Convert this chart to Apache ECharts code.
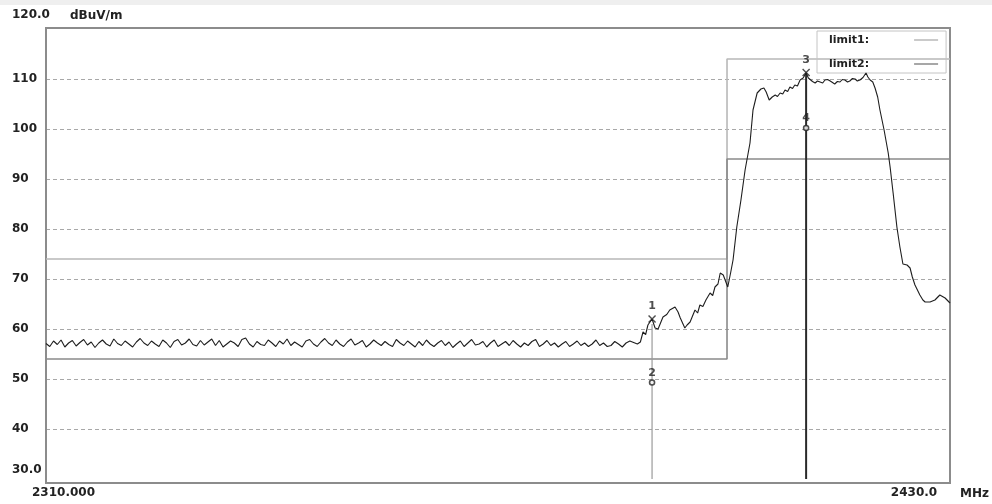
<!DOCTYPE html>
<html>
<head>
<meta charset="utf-8">
<script src="https://cdn.jsdelivr.net/npm/echarts@6/dist/echarts.min.js"></script>
<style>
html,body{margin:0;padding:0;background:#fff;}
#c{width:992px;height:504px;}
</style>
</head>
<body>
<div id="c"></div>
<script>
// ---------- data ----------
const xTickLabels = ['2310.000', '2430.0'];
const yTickLabels = {120: '120.0', 30: '30.0'};

// noise floor, 2310 .. 2388 MHz every 0.5 MHz
const noiseStart = 2310;
const noiseStep = 0.5;
const noiseLevel = [
  57.1,56.5,57.6,56.9,57.8,56.4,57.2,57.7,56.6,57.3,
  57.9,56.8,57.4,56.3,57.2,57.8,57.0,56.6,58.0,57.1,
  56.7,57.6,57.0,56.4,57.4,58.1,57.2,56.7,57.6,57.0,
  56.5,57.8,57.2,56.3,57.5,57.9,56.8,57.2,58.0,56.9,
  56.6,57.7,56.8,57.4,58.0,56.7,57.7,56.4,57.0,57.6,
  57.2,56.5,57.9,58.2,57.0,56.4,57.5,56.9,56.7,57.8,
  57.2,56.5,57.6,57.0,58.0,56.7,57.4,56.9,56.4,57.6,
  57.9,57.0,56.5,57.4,58.1,57.2,56.7,57.8,57.0,56.5,
  57.4,58.0,56.8,57.2,57.7,56.4,57.0,57.8,57.2,56.7,
  57.5,56.9,56.5,57.9,57.2,56.7,57.6,57.0,56.4,57.5,
  56.7,57.8,57.0,56.5,57.2,57.7,56.7,57.4,56.3,57.0,
  57.6,56.5,57.2,57.9,56.8,57.0,57.5,56.4,57.2,57.8,
  56.5,57.0,57.5,56.7,57.7,57.0,56.4,57.2,56.7,57.5,
  57.9,56.5,57.0,57.7,56.7,57.2,56.4,57.0,57.5,56.5,
  57.0,57.6,56.7,57.2,56.5,57.0,57.8,56.7,57.2,56.5,
  56.7,57.5,57.0,56.4,57.2,57.6,57.3
];

// band edge and emission, read point by point
const bandFreq = [
  2388.5,2388.9,2389.25,2389.6,2389.9,2390.45,2390.85,2391.25,2391.9,2392.4,
  2392.8,2393.5,2393.9,2394.2,2394.8,2395.1,2395.5,2396.15,2396.5,2396.8,
  2397.2,2397.6,2398.15,2398.5,2398.8,2399.2,2399.5,2399.9,2400.5,2400.9,
  2401.2,2401.7,2402.25,2402.8,2403.45,2403.85,2404.4,2404.9,2405.3,2405.6,
  2406.0,2406.4,2406.8,2407.1,2407.45,2407.8,2408.1,2408.45,2408.75,2409.1,
  2409.4,2409.75,2410.1,2410.5,2410.9,2411.2,2411.4,2411.75,2412.1,2412.4,
  2412.75,2413.1,2413.4,2413.75,2414.1,2414.4,2414.7,2415.05,2415.4,2415.7,
  2416.05,2416.4,2416.7,2417.05,2417.4,2417.7,2418.05,2418.45,2418.85,2419.1,
  2419.4,2419.75,2420.05,2420.4,2420.7,2421.25,2421.8,2422.05,2422.45,2422.95,
  2423.35,2423.75,2424.3,2424.7,2425.0,2425.35,2426.0,2426.4,2426.7,2427.35,
  2428.0,2428.65,2429.35,2430.0
];
const bandLevel = [
  57.0,57.4,59.4,58.9,60.8,62.0,60.2,60.0,62.4,62.9,
  63.8,64.4,63.4,62.2,60.2,60.8,61.4,63.8,63.2,64.8,
  64.5,65.8,67.2,66.7,68.4,69.0,71.2,70.8,68.4,71.4,
  73.8,80.4,85.8,91.8,97.2,103.8,107.2,108.0,108.2,107.4,
  105.8,106.4,106.8,106.5,107.2,107.0,107.8,107.5,108.4,108.1,
  108.8,108.6,109.8,110.2,111.2,110.2,109.8,109.5,109.2,109.6,
  109.4,109.2,109.8,109.9,109.6,109.3,109.0,109.5,109.4,109.9,
  109.8,109.4,109.6,110.1,110.0,109.6,109.8,110.3,111.2,110.4,
  109.8,109.4,108.2,106.4,103.8,99.8,95.2,92.4,87.2,80.4,
  76.4,73.0,72.8,72.2,70.4,68.8,66.8,65.8,65.4,65.4,
  65.8,66.8,66.2,65.2
];

// limits (limit1 = peak, limit2 = average)
const limitFreq   = [2310, 2400.4, 2400.4, 2430];
const limit1Level = [74, 74, 114, 114];
const limit2Level = [54, 54, 94, 94];

// markers
const markerName  = ['1', '2', '3', '4'];
const markerFreq  = [2390.45, 2390.45, 2410.9, 2410.9];
const markerLevel = [62.0, 49.3, 111.3, 100.2];
const markerKind  = ['x', 'o', 'x', 'o'];

// ---------- build ----------
const FONT = 'DejaVu Sans';
const trace = noiseLevel.map((v, i) => [noiseStart + i * noiseStep, v])
  .concat(bandFreq.map((f, i) => [f, bandLevel[i]]));
const lim1 = limitFreq.map((f, i) => [f, limit1Level[i]]);
const lim2 = limitFreq.map((f, i) => [f, limit2Level[i]]);

const crossPath = 'path://M0,0L10,10M10,0L0,10';
const markerData = markerFreq.map((f, i) => ({
  value: [f, markerLevel[i]],
  name: markerName[i],
  symbol: markerKind[i] === 'x' ? crossPath : 'circle',
  symbolSize: markerKind[i] === 'x' ? 7 : 5,
  itemStyle: markerKind[i] === 'x'
    ? {color: 'rgba(0,0,0,0)', borderColor: '#222', borderWidth: 1.4}
    : {color: '#fff', borderColor: '#222', borderWidth: 1.6},
  label: {distance: markerKind[i] === 'x' ? 3 : 1}
}));

const chart = echarts.init(document.getElementById('c'), null, {renderer: 'canvas'});
const gridColors = ['rgba(0,0,0,0)','#a8a8a8','#a8a8a8','#a8a8a8','#a8a8a8','#a8a8a8','#a8a8a8','#a8a8a8','#a8a8a8','rgba(0,0,0,0)'];

const option = {
  animation: false,
  backgroundColor: '#ffffff',
  grid: {left: 46, top: 29, width: 904, height: 450, show: false},
  graphic: [
    {type: 'rect', shape: {x: 0, y: 0, width: 992, height: 5}, style: {fill: '#efefef'}, silent: true, z: -10},
    {type: 'rect', shape: {x: 46, y: 28, width: 904, height: 455}, style: {fill: null, stroke: '#8c8c8c', lineWidth: 2}, silent: true, z: 1}
  ],
  xAxis: {
    type: 'value', min: 2310, max: 2430, interval: 120,
    axisLine: {show: false}, axisTick: {show: false}, splitLine: {show: false},
    axisLabel: {
      margin: 8,
      formatter: v => v === 2310 ? '{a|' + xTickLabels[0] + '}' : '{b|' + xTickLabels[1] + '}',
      rich: {
        a: {fontFamily: FONT, fontWeight: 'bold', fontSize: 12, color: '#222', padding: [0, 0, 0, 35]},
        b: {fontFamily: FONT, fontWeight: 'bold', fontSize: 12, color: '#222', padding: [0, 72, 0, 0]}
      }
    },
    name: 'MHz', nameLocation: 'end', nameGap: 10,
    nameTextStyle: {fontFamily: FONT, fontWeight: 'bold', fontSize: 12, color: '#222', verticalAlign: 'top', padding: [9, 0, 0, 0]}
  },
  yAxis: {
    type: 'value', min: 30, max: 120, interval: 10,
    axisLine: {show: false}, axisTick: {show: false},
    splitLine: {show: true, lineStyle: {type: [4, 3], color: gridColors, width: 1}},
    axisLabel: {
      align: 'left', margin: 34,
      fontFamily: FONT, fontWeight: 'bold', fontSize: 12, color: '#222',
      formatter: v => v === 120 ? '{t|' + yTickLabels[120] + '}' : (v === 30 ? '{b|' + yTickLabels[30] + '}' : String(v)),
      rich: {
        t: {fontFamily: FONT, fontWeight: 'bold', fontSize: 12, color: '#222', padding: [0, 0, 28, 0]},
        b: {fontFamily: FONT, fontWeight: 'bold', fontSize: 12, color: '#222', padding: [0, 0, 18, 0]}
      }
    },
    name: 'dBuV/m', nameLocation: 'end', nameGap: 7,
    nameTextStyle: {fontFamily: FONT, fontWeight: 'bold', fontSize: 12, color: '#222', align: 'left', padding: [0, 0, 0, 24]}
  },
  legend: {
    left: 817, top: 31, orient: 'vertical', align: 'right',
    itemWidth: 24, itemHeight: 1.5, itemGap: 12,
    padding: [3, 8, 3, 12],
    borderColor: '#c4c4c4', borderWidth: 1, backgroundColor: 'rgba(255,255,255,0)',
    selectedMode: false,
    formatter: n => n + ':',
    textStyle: {fontFamily: FONT, fontWeight: 'bold', fontSize: 11, color: '#222', lineHeight: 12, padding: [0, 40, 0, 0]},
    data: [{name: 'limit1', icon: 'rect'}, {name: 'limit2', icon: 'rect'}]
  },
  series: [
    {
      name: 'limit1', type: 'line', data: lim1, symbol: 'none',
      lineStyle: {color: '#b8b8b8', width: 1.6}, itemStyle: {color: '#b8b8b8'}, z: 2
    },
    {
      name: 'limit2', type: 'line', data: lim2, symbol: 'none',
      lineStyle: {color: '#8a8a8a', width: 1.6}, itemStyle: {color: '#8a8a8a'}, z: 2
    },
    {
      name: 'marker12', type: 'line', symbol: 'none',
      data: [[markerFreq[0], markerLevel[0] - 1], [markerFreq[0], 30]],
      lineStyle: {color: '#9a9a9a', width: 1.2}, z: 3
    },
    {
      name: 'marker34', type: 'line', symbol: 'none',
      data: [[markerFreq[2], markerLevel[2]], [markerFreq[2], 30]],
      lineStyle: {color: '#2a2a2a', width: 2}, z: 3
    },
    {
      name: 'trace', type: 'line', data: trace, symbol: 'none',
      lineStyle: {color: '#1e1e1e', width: 1.1}, z: 4
    },
    {
      name: 'markers', type: 'scatter', data: markerData, z: 5,
      label: {show: true, position: 'top', formatter: p => p.name, fontFamily: FONT, fontWeight: 'bold', fontSize: 11, color: '#222'}
    }
  ]
};
chart.setOption(option);
</script>
</body>
</html>
